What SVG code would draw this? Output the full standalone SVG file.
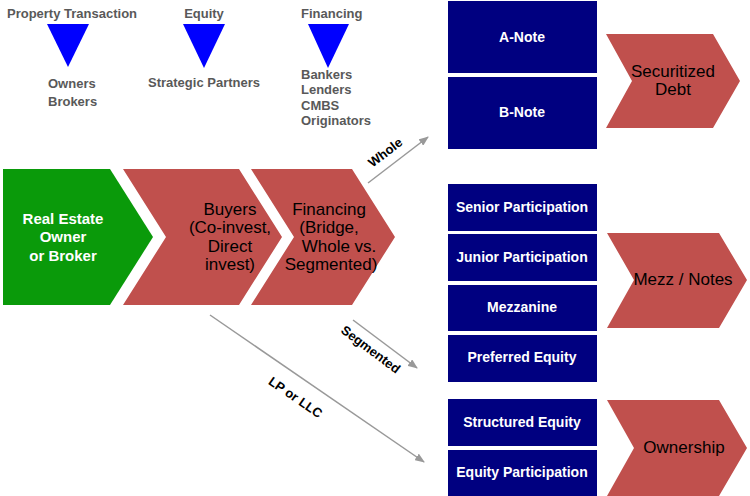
<svg xmlns="http://www.w3.org/2000/svg" width="750" height="496" viewBox="0 0 750 496">
<style>
.hdr{font-family:"Liberation Sans",Arial,sans-serif;font-size:13px;font-weight:bold;fill:#595959}
.box{fill:#000080}
.bt{font-family:"Liberation Sans",Arial,sans-serif;font-size:14px;font-weight:bold;fill:#fff;text-anchor:middle}
.chev{fill:#c0504d}
.ct{font-family:"Liberation Sans",Arial,sans-serif;font-size:17px;fill:#000;text-anchor:middle}
.tri{fill:#0000ff}
.lbl{font-family:"Liberation Sans",Arial,sans-serif;font-size:13px;font-weight:bold;fill:#000;text-anchor:middle}
.conn{stroke:#999;stroke-width:1.5;fill:none;marker-end:url(#ah)}
</style>
<defs>
<marker id="ah" markerWidth="10" markerHeight="8" refX="9" refY="4" orient="auto" markerUnits="userSpaceOnUse">
<path d="M0,0 L10,4 L0,8 Z" fill="#999"/>
</marker>
</defs>
<rect width="750" height="496" fill="#fff"/>

<g id="hdr-property">
<text class="hdr" x="72" y="18" text-anchor="middle">Property Transaction</text>
<polygon class="tri" points="47,24 89,24 68,67"/>
<text class="hdr" x="48" y="88">Owners</text>
<text class="hdr" x="48" y="106">Brokers</text>
</g>
<g id="hdr-equity">
<text class="hdr" x="204" y="18" text-anchor="middle">Equity</text>
<polygon class="tri" points="183,24 225,24 204,68"/>
<text class="hdr" x="148" y="87">Strategic Partners</text>
</g>
<g id="hdr-financing">
<text class="hdr" x="301" y="18">Financing</text>
<polygon class="tri" points="308,24 349,24 328,68"/>
<text class="hdr" x="301" y="79">Bankers</text>
<text class="hdr" x="301" y="94">Lenders</text>
<text class="hdr" x="301" y="110">CMBS</text>
<text class="hdr" x="301" y="125">Originators</text>
</g>

<g id="owner">
<polygon fill="#0a9a0a" points="3,169 110,169 153,237 110,305 3,305"/>
<text x="63" y="224" font-family="Liberation Sans,Arial,sans-serif" font-size="15" font-weight="bold" fill="#fff" text-anchor="middle">Real Estate</text>
<text x="63" y="242" font-family="Liberation Sans,Arial,sans-serif" font-size="15" font-weight="bold" fill="#fff" text-anchor="middle">Owner</text>
<text x="63" y="261" font-family="Liberation Sans,Arial,sans-serif" font-size="15" font-weight="bold" fill="#fff" text-anchor="middle">or Broker</text>
</g>
<g id="buyers">
<polygon class="chev" points="123,169 239,169 282,237 239,305 123,305 166,237"/>
<text class="ct" x="230" y="215">Buyers</text>
<text class="ct" x="230" y="233">(Co-invest,</text>
<text class="ct" x="230" y="252">Direct</text>
<text class="ct" x="230" y="270">invest)</text>
</g>
<g id="financing">
<polygon class="chev" points="251,169 352,169 395,237 352,305 251,305 294,237"/>
<text class="ct" x="329" y="215">Financing</text>
<text class="ct" x="329" y="233">(Bridge,</text>
<text class="ct" x="339" y="252">Whole vs.</text>
<text class="ct" x="331" y="270">Segmented)</text>
</g>

<g id="a-note"><rect class="box" x="448" y="1" width="149" height="72"/><text class="bt" x="522" y="42">A-Note</text></g>
<g id="b-note"><rect class="box" x="448" y="77" width="149" height="72"/><text class="bt" x="522" y="117">B-Note</text></g>
<g id="securitized">
<polygon class="chev" points="606,34 713,34 740,81 713,128 606,128 632,81"/>
<text class="ct" x="673" y="77">Securitized</text>
<text class="ct" x="673" y="95">Debt</text>
</g>

<g id="senior"><rect class="box" x="448" y="184" width="149" height="47"/><text class="bt" x="522" y="212">Senior Participation</text></g>
<g id="junior"><rect class="box" x="448" y="234" width="149" height="47"/><text class="bt" x="522" y="262">Junior Participation</text></g>
<g id="mezzanine"><rect class="box" x="448" y="285" width="149" height="46"/><text class="bt" x="522" y="312">Mezzanine</text></g>
<g id="preferred"><rect class="box" x="448" y="335" width="149" height="47"/><text class="bt" x="522" y="362">Preferred Equity</text></g>
<g id="mezz-notes">
<polygon class="chev" points="607,233 719,233 747,280 719,328 607,328 634,280"/>
<text class="ct" x="683" y="285" font-size="16.5">Mezz / Notes</text>
</g>

<g id="structured"><rect class="box" x="448" y="399" width="149" height="47"/><text class="bt" x="522" y="427">Structured Equity</text></g>
<g id="equity-part"><rect class="box" x="448" y="450" width="149" height="46"/><text class="bt" x="522" y="477">Equity Participation</text></g>
<g id="ownership">
<polygon class="chev" points="607,400 719,400 747,448 719,496 607,496 634,448"/>
<text class="ct" x="684" y="453">Ownership</text>
</g>

<g id="connectors">
<line class="conn" x1="368" y1="183" x2="428" y2="137"/>
<text class="lbl" transform="translate(388,156) rotate(-37.5)">Whole</text>
<line class="conn" x1="353" y1="320" x2="417" y2="368"/>
<text class="lbl" transform="translate(368,353) rotate(37)">Segmented</text>
<line class="conn" x1="210" y1="315" x2="424" y2="462"/>
<text class="lbl" transform="translate(293,401) rotate(34.5)">LP or LLC</text>
</g>
</svg>
